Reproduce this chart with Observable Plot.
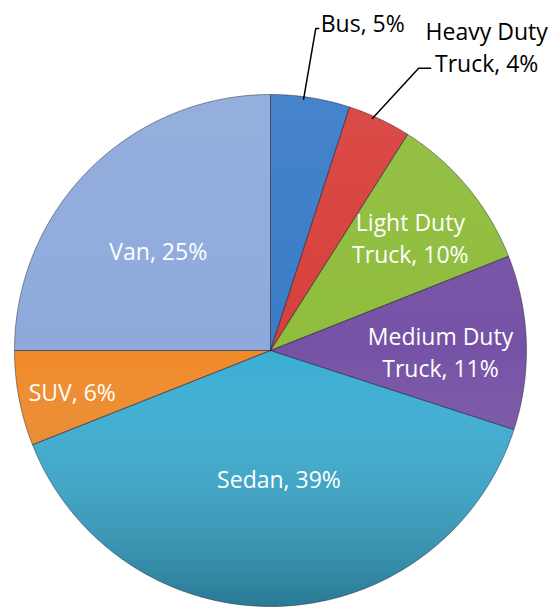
<!DOCTYPE html>
<html><head><meta charset="utf-8">
<script src="https://cdn.jsdelivr.net/npm/d3@7"></script>
<script src="https://cdn.jsdelivr.net/npm/@observablehq/plot@0.6"></script>
<style>body{margin:0;background:#fff}</style>
</head><body><div id="chart"></div>
<script>
// ---- data ----
const categories = ["Bus", "Heavy Duty Truck", "Light Duty Truck", "Medium Duty Truck", "Sedan", "SUV", "Van"];
const shares = [5, 4, 10, 11, 39, 6, 25];
const labelTexts = ["Bus, 5%", "Heavy Duty\nTruck, 4%", "Light Duty\nTruck, 10%", "Medium Duty\nTruck, 11%", "Sedan, 39%", "SUV, 6%", "Van, 25%"];
const colors = ["#3a7cc8", "#d8403c", "#8fbd3c", "#7652a6", "#3aaed4", "#f08a2a", "#8eaadc"];

// ---- layout ----
const W = 551, H = 609, CX = 270, CY = 350, R = 256;
// radial position (in radius units) and angle shift (degrees) of each label
const labelLayout = {
  "Bus": {r: 1.27, da: -1, outside: true, tail: 3, dx: 5, dy: -7, anchor: "start"},
  "Heavy Duty Truck": {r: 1.245, da: 2.5, outside: true, tail: 12, dx: 68, dy: -23, anchor: "middle"},
  "Light Duty Truck": {r: 0.705, da: 0.4},
  "Medium Duty Truck": {r: 0.664, da: 2},
  "Sedan": {r: 0.5, da: -2},
  "SUV": {r: 0.79, da: -0.6},
  "Van": {r: 0.59, da: -3}
};

const arcs = d3.pie().sort(null).value(d => d)(shares);
const slicePts = [];
arcs.forEach((a, k) => {
  const name = categories[k];
  slicePts.push({name, color: colors[k], x: 0, y: 0});
  const n = Math.max(2, Math.ceil((a.endAngle - a.startAngle) / 0.004));
  for (let j = 0; j <= n; j++) {
    const t = a.startAngle + (a.endAngle - a.startAngle) * j / n;
    slicePts.push({name, color: colors[k], x: Math.sin(t), y: Math.cos(t)});
  }
  slicePts.push({name, color: colors[k], x: 0, y: 0});
});

const insideLabels = [], outsideLabels = [], leaders = [];
arcs.forEach((a, k) => {
  const name = categories[k];
  const L = labelLayout[name];
  const mid = (a.startAngle + a.endAngle) / 2;
  const t = mid + L.da * Math.PI / 180;
  const px = L.r * Math.sin(t), py = L.r * Math.cos(t);
  if (L.outside) {
    const s = mid - 1.5 * Math.PI / 180;
    leaders.push({name, x: Math.sin(s) * 0.99, y: Math.cos(s) * 0.99});
    leaders.push({name, x: px, y: py});
    leaders.push({name, x: px + L.tail / R, y: py});
    outsideLabels.push({name, text: labelTexts[k], x: px, y: py, dx: L.dx, dy: L.dy, anchor: L.anchor});
  } else {
    insideLabels.push({name, text: labelTexts[k], x: px, y: py});
  }
});

const font = {fontFamily: "'Open Sans', 'Noto Sans', sans-serif", fontSize: 23, lineHeight: 1.39};

const plot = Plot.plot({
  width: W, height: H,
  margin: 0,
  x: {domain: [-CX / R, (W - CX) / R], range: [0, W], axis: null},
  y: {domain: [-(H - CY) / R, CY / R], range: [H, 0], axis: null},
  color: {type: "identity"},
  style: {background: "white", overflow: "visible"},
  marks: [
    Plot.line(slicePts, {x: "x", y: "y", z: "name", fill: "#000", stroke: "none", opacity: 0.35, dx: 3, dy: 5, ariaLabel: "shadow"}),
    Plot.line(slicePts, {x: "x", y: "y", z: "name", fill: "color", stroke: "none"}),
    Plot.line(slicePts, {x: "x", y: "y", z: "name", fill: "url(#shade)", stroke: "rgba(40,40,60,0.5)", strokeWidth: 1, strokeLinejoin: "round"}),
    Plot.line(leaders, {x: "x", y: "y", z: "name", stroke: "black", strokeWidth: 1.5, fill: "none"}),
    ...outsideLabels.map(d => Plot.text([d], {x: "x", y: "y", text: "text", dx: d.dx, dy: d.dy, textAnchor: d.anchor, fill: "black", ...font})),
    Plot.text(insideLabels, {x: "x", y: "y", text: "text", fill: "white", ...font})
  ]
});

const ns = "http://www.w3.org/2000/svg";
const defs = document.createElementNS(ns, "defs");
defs.innerHTML = `
  <linearGradient id="shade" gradientUnits="userSpaceOnUse" x1="0" y1="${CY - R}" x2="0" y2="${CY + R}">
    <stop offset="0" stop-color="#fff" stop-opacity="0.06"/>
    <stop offset="0.5" stop-color="#fff" stop-opacity="0"/>
    <stop offset="1" stop-color="#000" stop-opacity="0.3"/>
  </linearGradient>
  <filter id="blur" x="-10%" y="-10%" width="120%" height="120%"><feGaussianBlur stdDeviation="3"/></filter>`;
plot.insertBefore(defs, plot.firstChild);
const sh = plot.querySelector('g[aria-label="shadow"]');
if (sh) sh.setAttribute("filter", "url(#blur)");
document.getElementById("chart").appendChild(plot);
</script>
</body></html>
